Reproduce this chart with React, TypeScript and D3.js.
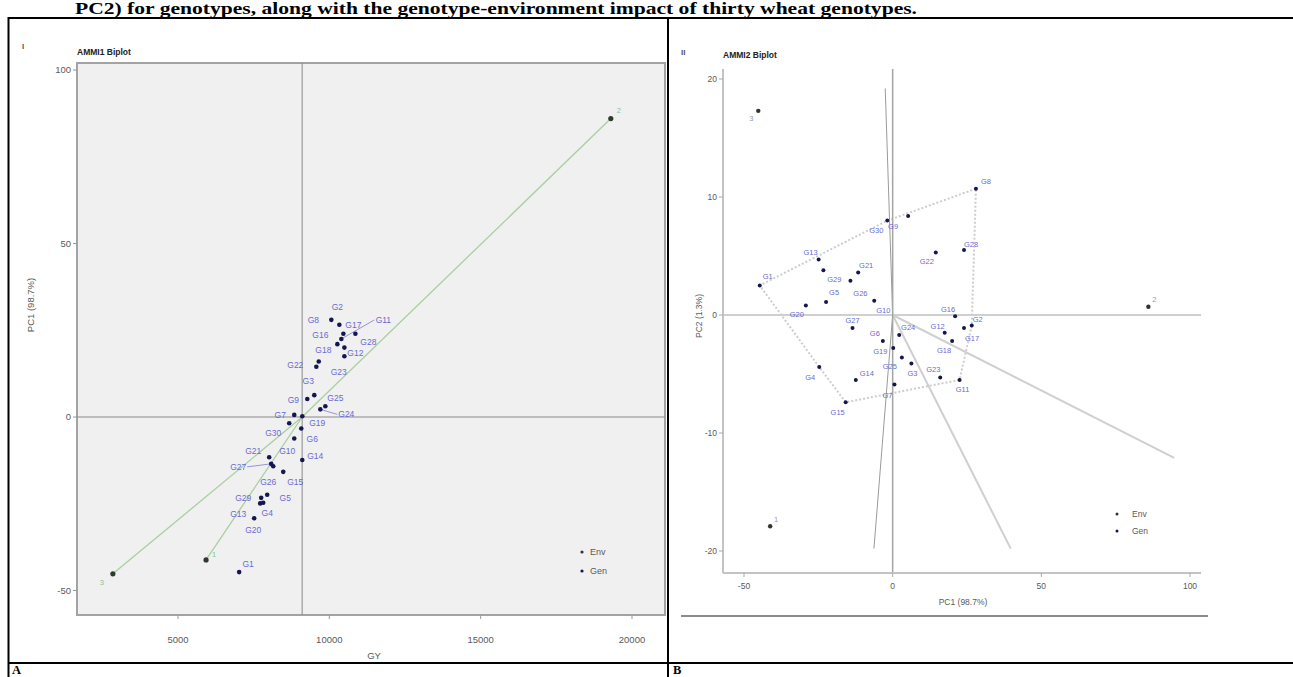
import React from "react";
import * as d3 from "d3";

// genotypes: mean grain yield (GY), IPCA scores
const genNames = ["G1", "G2", "G3", "G4", "G5", "G6", "G7", "G8", "G9", "G10",
  "G11", "G12", "G13", "G14", "G15", "G16", "G17", "G18", "G19", "G20",
  "G21", "G22", "G23", "G24", "G25", "G26", "G27", "G28", "G29", "G30"];
const genGY = [7020, 10331, 9503, 7815, 7947, 9073, 8841, 10066, 9272, 8841,
  10397, 10497, 7715, 9106, 8477, 10265, 10464, 10497, 9106, 7517,
  8013, 9570, 9650, 9702, 9868, 8146, 8079, 10861, 7748, 8675];
const genPC1 = [-44.7, 26.6, 6.3, -24.7, -22.4, -3.3, 0.6, 28.0, 5.2, -6.2,
  22.5, 17.5, -24.9, -12.4, -15.8, 21.0, 24.0, 20.0, 0.2, -29.2,
  -11.6, 14.5, 16.0, 2.2, 3.1, -14.2, -13.5, 24.0, -23.3, -1.8];
const genPC2 = [2.5, -0.9, -4.1, -4.4, 1.1, -2.2, -5.9, 10.7, 8.4, 1.2,
  -5.5, -1.5, 4.7, -5.5, -7.4, -0.1, -1.1, -2.2, -2.8, 0.8,
  3.6, 5.3, -5.3, -1.7, -3.6, 2.9, -1.1, 5.5, 3.8, 8.0];

// environments
const envNames = ["1", "2", "3"];
const envGY = [5927, 19300, 2848];
const envPC1 = [-41.2, 86.0, -45.2];
const envPC2 = [-17.9, 0.7, 17.3];

// which-won-where rays (end points, PC1/PC2)
const rayPC1 = [-2.5, -6.3, 39.7, 94.7];
const rayPC2 = [19.2, -19.8, -19.8, -12.1];

const ticksGY = [5000, 10000, 15000, 20000];
const ticksPC1 = [-50, 0, 50, 100];
const ticksPC2 = [-20, -10, 0, 10, 20];

// label nudges (px) so the text sits where the reference puts it
const nudgeA: Record<string, [number, number]> = {
  G1: [9, -8], G2: [-2, -18], G3: [-6, -14], G4: [4, 10], G5: [18, 3],
  G6: [11, 11], G7: [-14, 0], G8: [-18, 0], G9: [-14, 1], G10: [-7, 13],
  G11: [42, -19], G12: [11, -3], G13: [-22, 11], G14: [13, -4], G15: [12, 10],
  G16: [-17, -9], G17: [10, -9], G18: [-21, 2], G19: [15, 7], G20: [-1, 12],
  G21: [-16, -6], G22: [-21, -2], G23: [20, 11], G24: [26, 5], G25: [10, -8],
  G26: [-5, 16], G27: [-33, 3], G28: [13, 8], G29: [-18, 0], G30: [-16, 10],
  "1": [8, -6], "2": [8, -8], "3": [-11, 9],
};
const nudgeB: Record<string, [number, number]> = {
  G1: [8, -9], G2: [6, -6], G3: [1, 10], G4: [-9, 10], G5: [8, -10],
  G6: [-8, -8], G7: [-7, 11], G8: [10, -7], G9: [-15, 10], G10: [9, 10],
  G11: [3, 9], G12: [-7, -6], G13: [-8, -7], G14: [11, -7], G15: [-8, 10],
  G16: [-7, -7], G17: [8, 10], G18: [-8, 9], G19: [-13, 3], G20: [-9, 9],
  G21: [8, -7], G22: [-9, 9], G23: [-7, -8], G24: [9, -8], G25: [-12, 9],
  G26: [10, 13], G27: [0, -8], G28: [7, -6], G29: [11, 9], G30: [-11, 10],
  "1": [6, -7], "2": [6, -7], "3": [-7, 8],
};

const sans = "'Liberation Sans', Arial, sans-serif";
const serif = "'Liberation Serif', 'Times New Roman', serif";
const tickCol = "#5a5a5a";
const genDot = "#16164f";
const genLab = "#6b6bd2";

function BiplotA() {
  const panel = { l: 77, t: 63, r: 665, b: 615 };
  const x = d3.scaleLinear().domain([5000, 20000]).range([178, 632]);
  const y = d3.scaleLinear().domain([-50, 100]).range([590.5, 70]);
  const meanGY = d3.mean(genGY) as number;
  return (
    <g>
      <text x={22} y={49} fontFamily={sans} fontSize={8} fontWeight="bold" fill="#555">I</text>
      <text x={77} y={55} fontFamily={sans} fontSize={8.5} fontWeight="bold" fill="#222">AMMI1 Biplot</text>
      <rect x={panel.l} y={panel.t} width={panel.r - panel.l} height={panel.b - panel.t}
        fill="#f0f0f0" stroke="#a3a3a3" strokeWidth={2} />
      <line x1={x(meanGY)} x2={x(meanGY)} y1={panel.t} y2={panel.b} stroke="#8a8a8a" strokeWidth={1} />
      <line x1={panel.l} x2={panel.r} y1={y(0)} y2={y(0)} stroke="#8a8a8a" strokeWidth={1} />
      {ticksPC1.map(t => (
        <g key={"ya" + t}>
          <line x1={panel.l - 4} x2={panel.l} y1={y(t)} y2={y(t)} stroke="#999" />
          <text x={panel.l - 6} y={y(t)} dy="0.35em" textAnchor="end" fontFamily={sans}
            fontSize={9.5} fill={tickCol}>{t}</text>
        </g>
      ))}
      {ticksGY.map(t => (
        <g key={"xa" + t}>
          <line x1={x(t)} x2={x(t)} y1={panel.b} y2={panel.b + 4} stroke="#999" />
          <text x={x(t)} y={643} textAnchor="middle" fontFamily={sans} fontSize={9.5} fill={tickCol}>{t}</text>
        </g>
      ))}
      <text x={(panel.l + panel.r) / 2 + 3} y={659} textAnchor="middle" fontFamily={sans}
        fontSize={9.5} fill={tickCol}>GY</text>
      <text transform="translate(34,305) rotate(-90)" textAnchor="middle" fontFamily={sans}
        fontSize={9.5} fill={tickCol}>PC1 (98.7%)</text>
      {envNames.map((n, i) => (
        <line key={"seg" + n} x1={x(meanGY)} y1={y(0)} x2={x(envGY[i])} y2={y(envPC1[i])}
          stroke="#a9cf9f" strokeWidth={1.3} />
      ))}
      {genNames.map((n, i) => {
        const [dx, dy] = nudgeA[n];
        const px = x(genGY[i]), py = y(genPC1[i]);
        return (
          <g key={"ga" + n}>
            {Math.hypot(dx, dy) > 25 && (
              <line x1={px} y1={py} x2={px + dx - Math.sign(dx) * 9} y2={py + dy}
                stroke={genLab} strokeWidth={0.7} />
            )}
            <circle cx={px} cy={py} r={2.3} fill={genDot} />
            <text x={px + dx} y={py + dy} dy="0.35em" textAnchor="middle" fontFamily={sans}
              fontSize={8.5} fill={genLab}>{n}</text>
          </g>
        );
      })}
      {envNames.map((n, i) => {
        const [dx, dy] = nudgeA[n];
        const px = x(envGY[i]), py = y(envPC1[i]);
        return (
          <g key={"ea" + n}>
            <circle cx={px} cy={py} r={2.6} fill="#2d3b2d" />
            <text x={px + dx} y={py + dy} dy="0.35em" textAnchor="middle" fontFamily={sans}
              fontSize={7.5} fill="#8cc48c">{n}</text>
          </g>
        );
      })}
      <circle cx={582} cy={552} r={1.6} fill="#333" />
      <text x={590} y={552} dy="0.35em" fontFamily={sans} fontSize={9} fill={tickCol}>Env</text>
      <circle cx={582} cy={571} r={1.6} fill={genDot} />
      <text x={590} y={571} dy="0.35em" fontFamily={sans} fontSize={9} fill={tickCol}>Gen</text>
    </g>
  );
}

function BiplotB() {
  const axis = { l: 723, t: 69, r: 1201, b: 573 };
  const x = d3.scaleLinear().domain([-50, 100]).range([744, 1190]);
  const y = d3.scaleLinear().domain([-20, 20]).range([551, 79]);
  const pts: [number, number][] = genNames.map((_, i) => [x(genPC1[i]), y(genPC2[i])]);
  const hull = d3.polygonHull(pts) || [];
  const hullPath = hull.length ? "M" + hull.map(p => p.join(",")).join("L") + "Z" : "";
  return (
    <g>
      <text x={681} y={55} fontFamily={sans} fontSize={8} fontWeight="bold" fill="#555">II</text>
      <text x={723} y={58} fontFamily={sans} fontSize={8.5} fontWeight="bold" fill="#222">AMMI2 Biplot</text>
      {rayPC1.map((r, i) => (
        <line key={"ray" + i} x1={x(0)} y1={y(0)} x2={x(r)} y2={y(rayPC2[i])}
          stroke={i < 2 ? "#9a9a9a" : "#cfcfcf"} strokeWidth={i < 2 ? 1 : 2} />
      ))}
      <path d={hullPath} fill="none" stroke="#cdcdcd" strokeWidth={2} strokeDasharray="2,2" />
      <line x1={axis.l} x2={axis.r} y1={y(0)} y2={y(0)} stroke="#cfcfcf" strokeWidth={2} />
      <line x1={x(0)} x2={x(0)} y1={axis.t} y2={axis.b} stroke="#a5a5a5" strokeWidth={1.5} />
      <line x1={axis.l} x2={axis.l} y1={axis.t} y2={axis.b} stroke="#c3c3c3" strokeWidth={2} />
      <line x1={axis.l} x2={axis.r} y1={axis.b} y2={axis.b} stroke="#c3c3c3" strokeWidth={2} />
      {ticksPC2.map(t => (
        <g key={"yb" + t}>
          <line x1={axis.l - 4} x2={axis.l} y1={y(t)} y2={y(t)} stroke="#aaa" />
          <text x={axis.l - 6} y={y(t)} dy="0.35em" textAnchor="end" fontFamily={sans}
            fontSize={8.5} fill={tickCol}>{t}</text>
        </g>
      ))}
      {ticksPC1.map(t => (
        <g key={"xb" + t}>
          <line x1={x(t)} x2={x(t)} y1={axis.b} y2={axis.b + 4} stroke="#aaa" />
          <text x={x(t)} y={589} textAnchor="middle" fontFamily={sans} fontSize={8.5} fill={tickCol}>{t}</text>
        </g>
      ))}
      <text x={963} y={605} textAnchor="middle" fontFamily={sans} fontSize={8.5} fill={tickCol}>PC1 (98.7%)</text>
      <text transform="translate(702,316) rotate(-90)" textAnchor="middle" fontFamily={sans}
        fontSize={8.5} fill={tickCol}>PC2 (1.3%)</text>
      {genNames.map((n, i) => {
        const [dx, dy] = nudgeB[n];
        const [px, py] = pts[i];
        return (
          <g key={"gb" + n}>
            <circle cx={px} cy={py} r={2} fill={genDot} />
            <text x={px + dx} y={py + dy} dy="0.35em" textAnchor="middle" fontFamily={sans}
              fontSize={7.5} fill={genLab}>{n}</text>
          </g>
        );
      })}
      {envNames.map((n, i) => {
        const [dx, dy] = nudgeB[n];
        const px = x(envPC1[i]), py = y(envPC2[i]);
        return (
          <g key={"eb" + n}>
            <circle cx={px} cy={py} r={2.2} fill="#333" />
            <text x={px + dx} y={py + dy} dy="0.35em" textAnchor="middle" fontFamily={sans}
              fontSize={7.5} fill="#9a9a9a">{n}</text>
          </g>
        );
      })}
      <circle cx={1117} cy={514} r={1.5} fill="#333" />
      <text x={1132} y={514} dy="0.35em" fontFamily={sans} fontSize={8.5} fill={tickCol}>Env</text>
      <circle cx={1117} cy={531} r={1.5} fill={genDot} />
      <text x={1132} y={531} dy="0.35em" fontFamily={sans} fontSize={8.5} fill={tickCol}>Gen</text>
      <line x1={681} x2={1208} y1={616} y2={616} stroke="#8a8a8a" strokeWidth={2} />
    </g>
  );
}

export default function App() {
  const W = 1293, H = 677;
  return (
    <svg width={W} height={H} style={{ position: "fixed", left: 0, top: 0, background: "#fff" }}>
      <text x={75} y={14} fontFamily={serif} fontSize={17} fontWeight="bold" fill="#000"
        textLength={842} lengthAdjust="spacingAndGlyphs">
        PC2) for genotypes, along with the genotype-environment impact of thirty wheat genotypes.
      </text>
      <line x1={8} x2={W} y1={18} y2={18} stroke="#000" strokeWidth={2} />
      <line x1={8.5} x2={8.5} y1={17} y2={H} stroke="#000" strokeWidth={2} />
      <line x1={668} x2={668} y1={17} y2={H} stroke="#000" strokeWidth={2} />
      <line x1={8} x2={W} y1={663} y2={663} stroke="#000" strokeWidth={2} />
      <text x={12} y={673.5} fontFamily={serif} fontSize={12.5} fontWeight="bold">A</text>
      <text x={673} y={673.5} fontFamily={serif} fontSize={12.5} fontWeight="bold">B</text>
      <BiplotA />
      <BiplotB />
    </svg>
  );
}
